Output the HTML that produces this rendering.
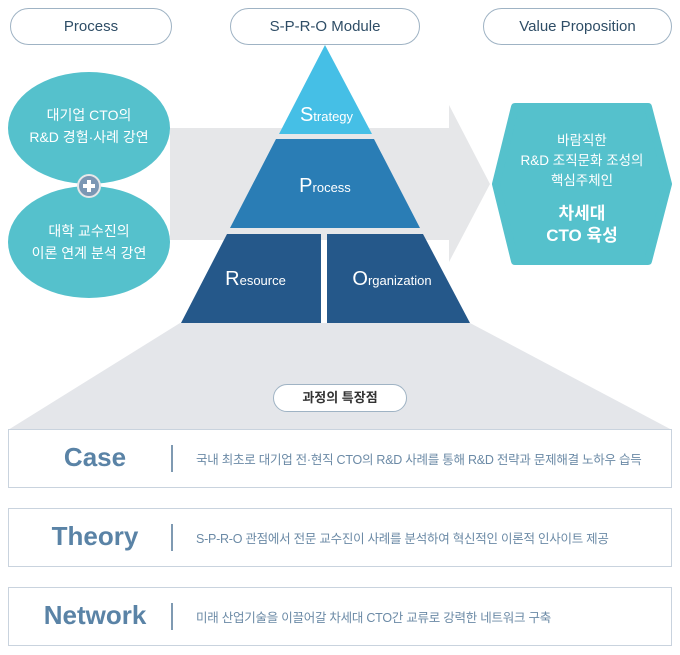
<!DOCTYPE html>
<html><head><meta charset="utf-8"><style>
body{margin:0;background:#fff;width:680px;height:655px;overflow:hidden;position:relative;font-family:"Liberation Sans","Noto Sans CJK KR",sans-serif}
.pill{position:absolute;border:1px solid #9fb3c4;border-radius:20px;text-align:center;color:#2e4d66;font-size:15px;box-sizing:border-box;background:#fff}
.box{position:absolute;left:8px;width:664px;height:59px;border:1.5px solid #c9d3de;box-sizing:border-box;background:#fff}
.box .l{position:absolute;left:0;width:172px;text-align:center;top:12px;font-size:26px;font-weight:bold;color:#5a83a6}
.box .d{position:absolute;left:162px;top:15px;width:2px;height:27px;background:#7f9ab2}
.box .t{position:absolute;left:187px;top:19px;font-size:12.5px;color:#6b8aa6;white-space:nowrap;letter-spacing:-0.25px}
</style></head><body>
<svg width="680" height="655" style="position:absolute;left:0;top:0">
<polygon points="180,323 470,323 672,430 8,430" fill="#e4e6ea"/>
<polygon points="170,128 449,128 449,105 490,184 449,262 449,240 170,240" fill="#e6e7e9"/>
<ellipse cx="89" cy="128" rx="81" ry="56" fill="#55c1cc"/>
<ellipse cx="89" cy="242" rx="81" ry="56" fill="#55c1cc"/>
<circle cx="89" cy="186" r="11" fill="#7b97b4" stroke="#e6e7e9" stroke-width="2"/>
<rect x="83" y="184" width="12" height="4" fill="#fff"/><rect x="87" y="180" width="4" height="12" fill="#fff"/>
<polygon points="325,45 372,134 279,134" fill="#45bfe6"/>
<polygon points="276,139 374,139 420,228 230,228" fill="#2a7db5"/>
<polygon points="227,234 321,234 321,323 181,323" fill="#25588a"/>
<polygon points="327,234 423,234 470,323 327,323" fill="#25588a"/>
<polygon points="515,107 648,107 668,184 648,261 515,261 496,184" fill="#55c1cc" stroke="#55c1cc" stroke-width="8" stroke-linejoin="round"/>
</svg>
<div class="pill" style="left:10px;top:8px;width:162px;height:37px;line-height:35px">Process</div>
<div class="pill" style="left:230px;top:8px;width:190px;height:37px;line-height:35px">S-P-R-O Module</div>
<div class="pill" style="left:483px;top:8px;width:189px;height:37px;line-height:35px">Value Proposition</div>
<div style="position:absolute;left:8px;width:162px;top:104px;text-align:center;color:#fff;font-size:14px;line-height:22px">대기업 CTO의<br>R&amp;D 경험·사례 강연</div>
<div style="position:absolute;left:8px;width:162px;top:220px;text-align:center;color:#fff;font-size:14px;line-height:22px">대학 교수진의<br>이론 연계 분석 강연</div>
<div style="position:absolute;left:279px;width:95px;top:104px;text-align:center;color:#fff;font-size:13px"><span style="font-size:20px">S</span>trategy</div>
<div style="position:absolute;left:230px;width:190px;top:175px;text-align:center;color:#fff;font-size:13px"><span style="font-size:20px">P</span>rocess</div>
<div style="position:absolute;left:190px;width:131px;top:268px;text-align:center;color:#fff;font-size:13px"><span style="font-size:20px">R</span>esource</div>
<div style="position:absolute;left:327px;width:130px;top:268px;text-align:center;color:#fff;font-size:13px"><span style="font-size:20px">O</span>rganization</div>
<div style="position:absolute;left:492px;width:180px;top:131px;text-align:center;color:#fff;font-size:13.5px;line-height:20px">바람직한<br>R&amp;D 조직문화 조성의<br>핵심주체인</div>
<div style="position:absolute;left:492px;width:180px;top:203px;text-align:center;color:#fff;font-size:17px;font-weight:bold;line-height:22px">차세대<br>CTO 육성</div>
<div class="pill" style="left:273px;top:384px;width:134px;height:28px;line-height:26px;font-size:13px;font-weight:bold;color:#333">과정의 특장점</div>
<div class="box" style="top:429px"><div class="l">Case</div><div class="d"></div><div class="t">국내 최초로 대기업 전·현직 CTO의 R&amp;D 사례를 통해 R&amp;D 전략과 문제해결 노하우 습득</div></div>
<div class="box" style="top:508px"><div class="l">Theory</div><div class="d"></div><div class="t">S-P-R-O 관점에서 전문 교수진이 사례를 분석하여 혁신적인 이론적 인사이트 제공</div></div>
<div class="box" style="top:587px"><div class="l">Network</div><div class="d"></div><div class="t">미래 산업기술을 이끌어갈 차세대 CTO간 교류로 강력한 네트워크 구축</div></div>
</body></html>
